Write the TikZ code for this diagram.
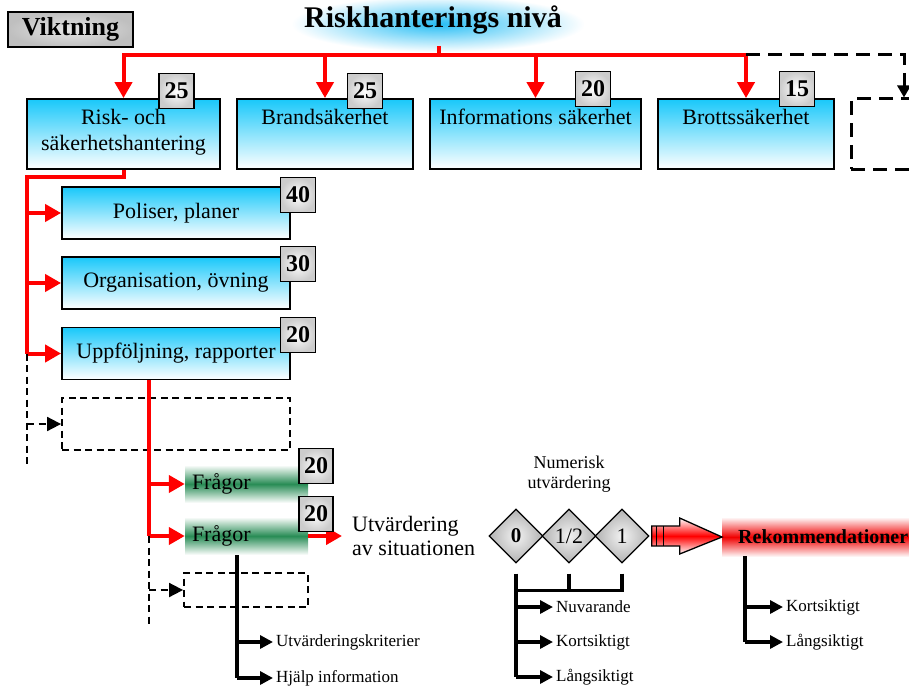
\documentclass[tikz,border=0pt]{standalone}
\usepackage{fontspec}
\setmainfont{Liberation Serif}
\usetikzlibrary{arrows.meta,shapes.geometric,fadings,calc}

\definecolor{boxcyan}{RGB}{25,200,250}
\definecolor{glowcyan}{RGB}{40,190,245}
\definecolor{qgreen}{RGB}{40,140,85}
\definecolor{rekred}{RGB}{240,0,0}

\tikzfading[name=glowfade, inner color=transparent!0, outer color=transparent!100]

\tikzset{
  redln/.style={draw=red, line width=4pt},
  redarr/.style={redln, -{Triangle[length=16pt,width=17pt]}},
  blkln/.style={draw=black, line width=3.2pt},
  blkarr/.style={blkln, -{Triangle[length=13pt,width=13pt]}},
  dashln/.style={draw=black, line width=1.8pt, dash pattern=on 7pt off 4.5pt},
  dasharr/.style={dashln, -{Triangle[length=14pt,width=14pt]}},
  bigdash/.style={draw=black, line width=3pt, dash pattern=on 14pt off 8pt},
  bluebox/.style={rectangle, draw=black, line width=1.8pt, top color=boxcyan, bottom color=white,
    inner sep=0pt, font=\fontsize{22}{26}\selectfont},
  boxtxt/.style={inner sep=0pt, align=center, font=\fontsize{22}{26}\selectfont},
  dashbox/.style={rectangle, dashln, inner sep=0pt},
  badge/.style={rectangle, draw=black, line width=1.8pt, inner color=white, outer color=gray!40,
    minimum width=35pt, minimum height=35pt, inner sep=0pt, font=\bfseries\fontsize{24}{24}\selectfont},
  qbox/.style={rectangle, top color=white, bottom color=white, middle color=qgreen, inner xsep=7pt, inner ysep=0pt,
    minimum width=123pt, minimum height=38pt, text width=109pt, align=left, font=\fontsize{22}{26}\selectfont},
  ditem/.style={diamond, draw=black, line width=1.3pt, inner color=white!90!gray, outer color=gray!60,
    minimum width=54pt, minimum height=54pt, inner sep=0pt, font=\fontsize{22}{22}\selectfont},
  smalltxt/.style={anchor=west, inner xsep=3pt, inner ysep=0pt, font=\fontsize{17}{20}\selectfont},
}

\begin{document}
\begin{tikzpicture}[x=1pt,y=-1pt]
\useasboundingbox (0,0) rectangle (909,690);

% glow behind the heading
\fill[glowcyan, path fading=glowfade] (292,-4) rectangle (584,52);
\node[inner sep=0pt, font=\bfseries\fontsize{30}{34}\selectfont] (title) at (433,20) {Riskhanterings nivå};

% weighting legend
\node[badge, inner color=gray!20, outer color=gray!50, minimum width=125pt, minimum height=35pt, font=\bfseries\fontsize{26}{26}\selectfont] (vikt) at (70.5,29.5) {Viktning};

% top level areas
\node[bluebox, minimum width=193pt, minimum height=70pt] (b1) at (123.5,134) {};
\node[bluebox, minimum width=176pt, minimum height=70pt] (b2) at (325,134) {};
\node[bluebox, minimum width=211pt, minimum height=70pt] (b3) at (535.5,134) {};
\node[bluebox, minimum width=176pt, minimum height=70pt] (b4) at (746,134) {};
\node[boxtxt, anchor=north] (b1t) at ([yshift=-11pt]b1.north) {Risk- och\\säkerhetshantering};
\node[boxtxt, anchor=north] (b2t) at ([yshift=-11pt]b2.north) {Brandsäkerhet};
\node[boxtxt, anchor=north] (b3t) at ([yshift=-11pt]b3.north) {Informations säkerhet};
\node[boxtxt, anchor=north] (b4t) at ([yshift=-11pt]b4.north) {Brottssäkerhet};

% further area (open, dashed)
\node[rectangle, bigdash, minimum width=74pt, minimum height=70pt, inner sep=0pt] (bx) at (888,134) {};

% distribution from the heading
\coordinate (hub) at (439,55);
\coordinate (tick) at (439,46);
\draw[redln] (tick) -- (hub);
\foreach \b in {b1,b2,b3,b4} \draw[redarr] (hub) -| (\b.north);
\coordinate (dc) at (904,55);
\draw[bigdash, -{Triangle[length=12pt,width=13pt]}] (hub -| b4.north) -- (dc) -- (dc |- bx.north);

% sub areas
\node[bluebox, minimum width=228pt, minimum height=52pt] (p1) at (176,213) {Poliser, planer};
\node[bluebox, minimum width=228pt, minimum height=52pt] (p2) at (176,283) {Organisation, övning};
\node[bluebox, minimum width=228pt, minimum height=52pt] (p3) at (176,353.5) {Uppföljning, rapporter};
\node[dashbox, minimum width=228pt, minimum height=52pt] (d1) at (176,424) {};

\coordinate (rl) at (27,177);
\draw[redln] (b1.south) |- (rl) -- (rl |- p3.west);
\foreach \p in {p1,p2,p3} \draw[redarr] (rl |- \p.west) -- (\p.west);
\coordinate (dle) at (27,468);
\draw[dashln] (rl |- p3.west) -- (dle);
\draw[dasharr] (rl |- d1.west) -- (d1.west);

% questions
\node[qbox] (f1) at (246.5,484) {Frågor};
\node[qbox] (f2) at (246.5,536) {Frågor};
\node[dashbox, minimum width=124pt, minimum height=34pt] (d2) at (246,590) {};

\coordinate (rv) at ([xshift=-27pt]p3.south);
\draw[redln] (rv) -- (rv |- f2.west);
\draw[redarr] (rv |- f1.west) -- (f1.west);
\draw[redarr] (rv |- f2.west) -- (f2.west);
\coordinate (dle2) at (149,625);
\draw[dashln] (rv |- f2.west) -- (dle2);
\draw[dasharr] (rv |- d2.west) -- (d2.west);

\node[anchor=west, inner xsep=10pt, inner ysep=0pt, align=left, font=\fontsize{22}{24}\selectfont] (ut) at (342,536) {Utvärdering\\av situationen};
\draw[redarr] (f2.east) -- (ut.west);

% question details
\node[smalltxt] (u1) at (273,642) {Utvärderingskriterier};
\node[smalltxt] (u2) at (273,678) {Hjälp information};
\coordinate (bq) at ([xshift=-9.5pt]f2.south);
\draw[blkln] (bq) -- (bq |- u2.west);
\draw[blkarr] (bq |- u1.west) -- (u1.west);
\draw[blkarr] (bq |- u2.west) -- (u2.west);

% numeric evaluation
\node[align=center, inner sep=0pt, font=\fontsize{18}{20}\selectfont] (num) at (569,474) {Numerisk\\utvärdering};
\node[ditem, font=\bfseries\fontsize{21}{21}\selectfont] (dm0) at (516,536) {0};
\node[ditem] (dm1) at (569,536) {1/2};
\node[ditem] (dm2) at (622,536) {1};

\node[smalltxt] (n1) at (553,607) {Nuvarande};
\node[smalltxt] (n2) at (553,642) {Kortsiktigt};
\node[smalltxt] (n3) at (553,677) {Långsiktigt};
\coordinate (nb) at ($(dm0.south)+(0,27)$);
\draw[blkln] ([yshift=-10pt]dm0.south) -- (dm0.south |- n3.west);
\draw[blkln] ([yshift=-10pt]dm2.south) |- (nb);
\draw[blkln] ([yshift=-10pt]dm1.south) -- (dm1.south |- nb);
\foreach \n in {n1,n2,n3} \draw[blkarr] (dm0.south |- \n.west) -- (\n.west);

% recommendations
\shade[top color=white, bottom color=white, middle color=rekred] (722,517) rectangle (912,557);
\node[anchor=west, inner sep=0pt, font=\bfseries\fontsize{20}{20}\selectfont] (rek) at (738,537) {Rekommendationer};

% block arrow towards the recommendations
\coordinate (ba) at ([xshift=2pt]dm2.east);
\shadedraw[draw=black, line width=1.3pt, top color=white, bottom color=white, middle color=red]
  (ba) ++(0,-10) -- ++(28,0) -- ++(0,-8) -- ([xshift=-16pt]rek.west) -- ($(ba)+(28,18)$) -- ++(0,-8) -- ++(-28,0) -- cycle;
\draw[line width=1.3pt] ($(ba)+(5,-10)$) -- ++(0,20);
\draw[line width=1.3pt] ($(ba)+(12,-10)$) -- ++(0,20);

\node[smalltxt] (k1) at (783,607) {Kortsiktigt};
\node[smalltxt] (k2) at (783,642) {Långsiktigt};
\coordinate (rk) at (745,556);
\draw[blkln] (rk) -- (rk |- k2.west);
\draw[blkarr] (rk |- k1.west) -- (k1.west);
\draw[blkarr] (rk |- k2.west) -- (k2.west);

% weights
\node[badge] (w1) at (176.5,91) {25};
\node[badge] (w2) at (365,91) {25};
\node[badge] (w3) at (593,89) {20};
\node[badge] (w4) at (797,89) {15};
\node[badge] (w5) at (298,195) {40};
\node[badge] (w6) at (298,264) {30};
\node[badge] (w7) at (298,335) {20};
\node[badge, minimum width=34pt] (w8) at (316,466) {20};
\node[badge, minimum width=34pt] (w9) at (316,514) {20};
\end{tikzpicture}
\end{document}
